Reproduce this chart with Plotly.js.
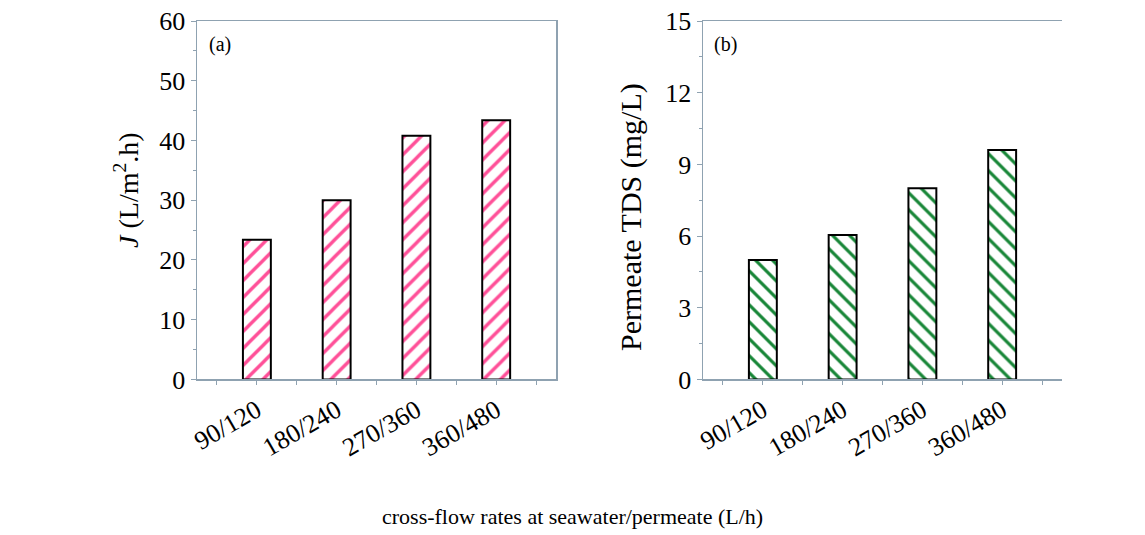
<!DOCTYPE html>
<html>
<head>
<meta charset="utf-8">
<script src="https://cdn.plot.ly/plotly-3.0.1.min.js"></script>
<style>html,body{margin:0;padding:0;background:#fff;}#chart{width:1145px;height:535px;}</style>
</head>
<body>
<div id="chart"></div>
<script>
// ---- data ----
const categories = ['90/120', '180/240', '270/360', '360/480'];
const fluxJ = [23.4, 30.0, 40.8, 43.4];          // J (L/m2.h)
const permeateTDS = [5.0, 6.05, 8.0, 9.6];       // mg/L
const panelLabels = ['(a)', '(b)'];
const yTitleA = '<i>J</i> (L/m<sup>2</sup>.h)';
const yTitleB = 'Permeate TDS (mg/L)';
const xTitle = 'cross-flow rates at seawater/permeate (L/h)';

const xIdx = categories.map((_, i) => i);
const FONT = 'Liberation Serif, Times New Roman, serif';
const AX = '#8fa2b1';

const traces = [
  {
    type: 'bar', x: xIdx, y: fluxJ, width: 0.35, xaxis: 'x', yaxis: 'y',
    marker: {color: 'white', line: {color: 'black', width: 2},
      pattern: {shape: '/', fgcolor: '#ff4f98', bgcolor: 'white', size: 12, solidity: 0.28}},
    hoverinfo: 'x+y'
  },
  {
    type: 'bar', x: xIdx, y: permeateTDS, width: 0.35, xaxis: 'x2', yaxis: 'y2',
    marker: {color: 'white', line: {color: 'black', width: 2},
      pattern: {shape: '\\', fgcolor: '#178637', bgcolor: 'white', size: 12, solidity: 0.26}},
    hoverinfo: 'x+y'
  }
];

function xAxis(domain, anchor) {
  return {
    domain: domain, anchor: anchor, range: [-0.75, 3.75],
    tickmode: 'array', tickvals: xIdx, ticktext: categories, tickangle: -30,
    ticks: 'outside', ticklen: 4, tickwidth: 1, tickcolor: AX,
    showline: true, linecolor: AX, linewidth: 1.5, mirror: true,
    showgrid: false, zeroline: false,
    tickfont: {family: FONT, size: 26, color: 'black'},
    minor: {tickmode: 'array', tickvals: [-0.5, 0.5, 1.5, 2.5, 3.5], ticks: 'outside', ticklen: 4, tickcolor: AX, showgrid: false}
  };
}
function yAxis(domain, anchor, range, dtick, mirror) {
  return {
    domain: domain, anchor: anchor, range: range, dtick: dtick, tick0: 0,
    ticks: 'outside', ticklen: 5, tickwidth: 1, tickcolor: AX,
    showline: true, linecolor: AX, linewidth: 1.5, mirror: mirror,
    showgrid: false, zeroline: false,
    tickfont: {family: FONT, size: 26, color: 'black'},
    minor: {dtick: dtick / 2, ticks: 'outside', ticklen: 3, tickcolor: AX, showgrid: false}
  };
}

const yDom = [0.2907, 0.9607];
const layout = {
  width: 1145, height: 535,
  margin: {l: 0, r: 0, t: 0, b: 0},
  paper_bgcolor: 'white', plot_bgcolor: 'white',
  showlegend: false,
  font: {family: FONT, color: 'black'},
  xaxis: xAxis([0.1721, 0.4856], 'y'),
  yaxis: yAxis(yDom, 'x', [0, 60], 10, true),
  xaxis2: xAxis([0.6140, 0.9275], 'y2'),
  yaxis2: yAxis(yDom, 'x2', [0, 15], 3, false),
  annotations: [
    {text: panelLabels[0], xref: 'paper', yref: 'paper', x: 0.1808, y: 0.916, xanchor: 'left', yanchor: 'middle', showarrow: false, font: {size: 20}},
    {text: panelLabels[1], xref: 'paper', yref: 'paper', x: 0.6218, y: 0.916, xanchor: 'left', yanchor: 'middle', showarrow: false, font: {size: 20}},
    {text: yTitleA, xref: 'paper', yref: 'paper', x: 0.1109, y: 0.645, textangle: -90, xanchor: 'center', yanchor: 'middle', showarrow: false, font: {size: 28}},
    {text: yTitleB, xref: 'paper', yref: 'paper', x: 0.5511, y: 0.5944, textangle: -90, xanchor: 'center', yanchor: 'middle', showarrow: false, font: {size: 30}},
    {text: xTitle, xref: 'paper', yref: 'paper', x: 0.5004, y: 0.034, xanchor: 'center', yanchor: 'middle', showarrow: false, font: {size: 22}}
  ]
};

Plotly.newPlot('chart', traces, layout, {staticPlot: true, displayModeBar: false});
</script>
</body>
</html>
